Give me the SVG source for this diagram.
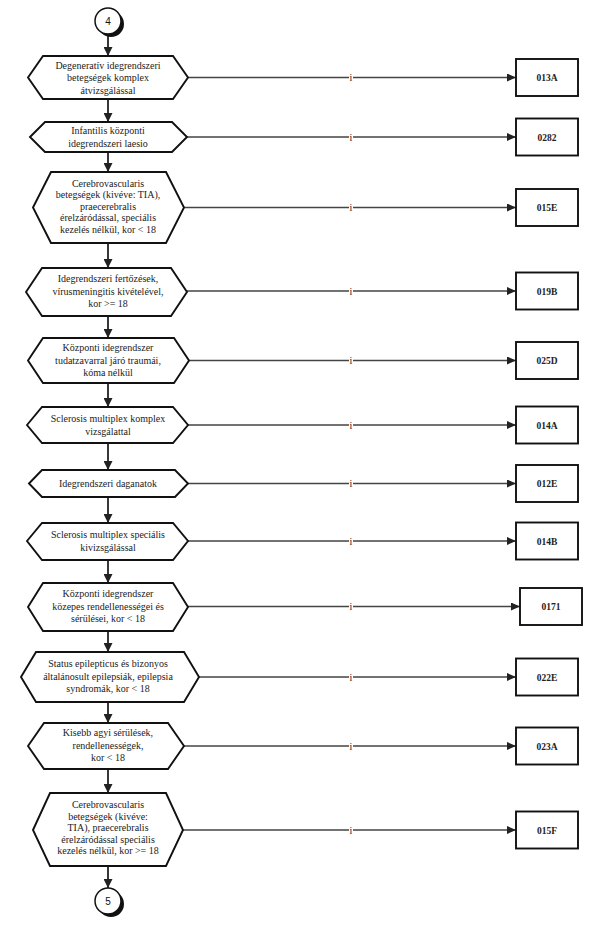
<svg xmlns="http://www.w3.org/2000/svg" width="593" height="928" viewBox="0 0 593 928">
<style>
.hex{fill:#fff;stroke:#111;stroke-width:1.9;stroke-linejoin:miter}
.box{fill:#fff;stroke:#111;stroke-width:1.9}
.t{font-family:"Liberation Serif","Times New Roman",serif;font-size:10px;fill:#222;text-anchor:middle}
.bt{font-family:"Liberation Serif","Times New Roman",serif;font-size:9.5px;font-weight:bold;fill:#222;text-anchor:middle}
.c{fill:none;stroke:#444;stroke-width:1.3}
.v{fill:none;stroke:#222;stroke-width:1.8}
.lbl{font-family:"Liberation Serif","Times New Roman",serif;font-size:10px;fill:#222;text-anchor:middle}
.ct{font-family:"Liberation Sans",Arial,sans-serif;font-size:10px;fill:#111;text-anchor:middle}
</style>
<defs>
<marker id="ah" markerWidth="9" markerHeight="8" refX="9" refY="4" orient="auto" markerUnits="userSpaceOnUse">
<path d="M0,0 L9,4 L0,8 Z" fill="#222"/>
</marker>
<marker id="av" markerWidth="9" markerHeight="9" refX="9" refY="4.5" orient="auto" markerUnits="userSpaceOnUse">
<path d="M0,0 L9,4.5 L0,9 Z" fill="#222"/>
</marker>
</defs>

<g id="connectors">
<line class="v" x1="108" y1="34" x2="108" y2="56" marker-end="url(#av)"/>
<line class="v" x1="108" y1="99" x2="108" y2="122" marker-end="url(#av)"/>
<line class="v" x1="108" y1="152" x2="108" y2="172" marker-end="url(#av)"/>
<line class="v" x1="108" y1="243" x2="108" y2="268" marker-end="url(#av)"/>
<line class="v" x1="108" y1="316" x2="108" y2="338" marker-end="url(#av)"/>
<line class="v" x1="108" y1="383" x2="108" y2="407" marker-end="url(#av)"/>
<line class="v" x1="108" y1="443" x2="108" y2="470" marker-end="url(#av)"/>
<line class="v" x1="108" y1="497" x2="108" y2="523" marker-end="url(#av)"/>
<line class="v" x1="108" y1="560" x2="108" y2="583" marker-end="url(#av)"/>
<line class="v" x1="108" y1="631" x2="108" y2="652" marker-end="url(#av)"/>
<line class="v" x1="108" y1="702" x2="108" y2="723" marker-end="url(#av)"/>
<line class="v" x1="108" y1="769" x2="108" y2="793" marker-end="url(#av)"/>
<line class="v" x1="108" y1="866" x2="108" y2="888" marker-end="url(#av)"/>
<path class="c" d="M188,77.5 H349 M353,77.5 H516" marker-end="url(#ah)"/>
<path class="c" d="M187,137 H349 M353,137 H516" marker-end="url(#ah)"/>
<path class="c" d="M184,207.5 H349 M353,207.5 H516" marker-end="url(#ah)"/>
<path class="c" d="M187,291 H349 M353,291 H516" marker-end="url(#ah)"/>
<path class="c" d="M189,360.5 H349 M353,360.5 H516" marker-end="url(#ah)"/>
<path class="c" d="M188,425 H349 M353,425 H516" marker-end="url(#ah)"/>
<path class="c" d="M188,483.5 H349 M353,483.5 H516" marker-end="url(#ah)"/>
<path class="c" d="M188,541 H349 M353,541 H516" marker-end="url(#ah)"/>
<path class="c" d="M188,606.5 H349 M353,606.5 H520" marker-end="url(#ah)"/>
<path class="c" d="M199,677 H349 M353,677 H516" marker-end="url(#ah)"/>
<path class="c" d="M184,746 H349 M353,746 H516" marker-end="url(#ah)"/>
<path class="c" d="M183,830 H349 M353,830 H516" marker-end="url(#ah)"/>
<text class="lbl" x="351" y="81">i</text>
<text class="lbl" x="351" y="140.5">i</text>
<text class="lbl" x="351" y="211">i</text>
<text class="lbl" x="351" y="294.5">i</text>
<text class="lbl" x="351" y="364">i</text>
<text class="lbl" x="351" y="428.5">i</text>
<text class="lbl" x="351" y="487">i</text>
<text class="lbl" x="351" y="544.5">i</text>
<text class="lbl" x="351" y="610">i</text>
<text class="lbl" x="351" y="680.5">i</text>
<text class="lbl" x="351" y="749.5">i</text>
<text class="lbl" x="351" y="833.5">i</text>
</g>

<g id="start4">
<circle cx="111" cy="24" r="13" fill="#111"/>
<circle cx="108" cy="21" r="13" fill="#fff" stroke="#111" stroke-width="1.5"/>
<text class="ct" x="108" y="24.5">4</text>
</g>

<g id="n1">
<path class="hex" d="M28,77.5 L43,56 L173,56 L188,77.5 L173,99 L43,99 Z"/>
<text class="t" x="108" y="68.5">Degeneratív idegrendszeri</text>
<text class="t" x="108" y="81">betegségek komplex</text>
<text class="t" x="108" y="93.5">átvizsgálással</text>
</g>
<g id="n2">
<path class="hex" d="M30,137 L45,122 L172,122 L187,137 L172,152 L45,152 Z"/>
<text class="t" x="108" y="134">Infantilis központi</text>
<text class="t" x="108" y="146.5">idegrendszeri laesio</text>
</g>
<g id="n3">
<path class="hex" d="M33,207.5 L51,172 L166,172 L184,207.5 L166,243 L51,243 Z"/>
<text class="t" x="108" y="186.5">Cerebrovascularis</text>
<text class="t" x="108" y="198">betegségek (kivéve: TIA),</text>
<text class="t" x="108" y="209.5">praecerebralis</text>
<text class="t" x="108" y="221">érelzáródással, speciális</text>
<text class="t" x="108" y="232.5">kezelés nélkül, kor &lt; 18</text>
</g>
<g id="n4">
<path class="hex" d="M26,292 L42,268 L171,268 L187,292 L171,316 L42,316 Z"/>
<text class="t" x="108" y="282">Idegrendszeri fertőzések,</text>
<text class="t" x="108" y="294.5">vírusmeningitis kivételével,</text>
<text class="t" x="108" y="307">kor &gt;= 18</text>
</g>
<g id="n5">
<path class="hex" d="M28,360.5 L43,338 L174,338 L189,360.5 L174,383 L43,383 Z"/>
<text class="t" x="108" y="351">Központi idegrendszer</text>
<text class="t" x="108" y="363.5">tudatzavarral járó traumái,</text>
<text class="t" x="108" y="376">kóma nélkül</text>
</g>
<g id="n6">
<path class="hex" d="M27,425 L42,407 L173,407 L188,425 L173,443 L42,443 Z"/>
<text class="t" x="108" y="422">Sclerosis multiplex komplex</text>
<text class="t" x="108" y="434.5">vizsgálattal</text>
</g>
<g id="n7">
<path class="hex" d="M29,483.5 L42,470 L175,470 L188,483.5 L175,497 L42,497 Z"/>
<text class="t" x="108" y="487">Idegrendszeri daganatok</text>
</g>
<g id="n8">
<path class="hex" d="M27,541 L42,523 L173,523 L188,541 L173,560 L42,560 Z"/>
<text class="t" x="108" y="538">Sclerosis multiplex speciális</text>
<text class="t" x="108" y="550.5">kivizsgálással</text>
</g>
<g id="n9">
<path class="hex" d="M28,607 L43,583 L173,583 L188,607 L173,631 L43,631 Z"/>
<text class="t" x="108" y="597">Központi idegrendszer</text>
<text class="t" x="108" y="609.5">közepes rendellenességei és</text>
<text class="t" x="108" y="622">sérülései, kor &lt; 18</text>
</g>
<g id="n10">
<path class="hex" d="M21,677 L36,652 L184,652 L199,677 L184,702 L36,702 Z"/>
<text class="t" x="108" y="667">Status epilepticus és bizonyos</text>
<text class="t" x="108" y="679.5">általánosult epilepsiák, epilepsia</text>
<text class="t" x="108" y="692">syndromák, kor &lt; 18</text>
</g>
<g id="n11">
<path class="hex" d="M28,746 L44,723 L168,723 L184,746 L168,769 L44,769 Z"/>
<text class="t" x="108" y="736">Kisebb agyi sérülések,</text>
<text class="t" x="108" y="748.5">rendellenességek,</text>
<text class="t" x="108" y="761">kor &lt; 18</text>
</g>
<g id="n12">
<path class="hex" d="M33,830 L50,793 L166,793 L183,830 L166,866 L50,866 Z"/>
<text class="t" x="108" y="808">Cerebrovascularis</text>
<text class="t" x="108" y="819.5">betegségek (kivéve:</text>
<text class="t" x="108" y="831">TIA), praecerebralis</text>
<text class="t" x="108" y="842.5">érelzáródással speciális</text>
<text class="t" x="108" y="854">kezelés nélkül, kor &gt;= 18</text>
</g>

<g id="b013A"><rect class="box" x="516" y="59" width="62" height="37"/><text class="bt" x="547" y="81">013A</text></g>
<g id="b0282"><rect class="box" x="516" y="118.5" width="62" height="37"/><text class="bt" x="547" y="140.5">0282</text></g>
<g id="b015E"><rect class="box" x="516" y="189" width="62" height="37"/><text class="bt" x="547" y="211">015E</text></g>
<g id="b019B"><rect class="box" x="516" y="272.5" width="62" height="37"/><text class="bt" x="547" y="294.5">019B</text></g>
<g id="b025D"><rect class="box" x="516" y="342" width="62" height="37"/><text class="bt" x="547" y="364">025D</text></g>
<g id="b014A"><rect class="box" x="516" y="406.5" width="62" height="37"/><text class="bt" x="547" y="428.5">014A</text></g>
<g id="b012E"><rect class="box" x="516" y="465" width="62" height="37"/><text class="bt" x="547" y="487">012E</text></g>
<g id="b014B"><rect class="box" x="516" y="522.5" width="62" height="37"/><text class="bt" x="547" y="544.5">014B</text></g>
<g id="b0171"><rect class="box" x="520" y="588" width="62" height="37"/><text class="bt" x="551" y="610">0171</text></g>
<g id="b022E"><rect class="box" x="516" y="658.5" width="62" height="37"/><text class="bt" x="547" y="680.5">022E</text></g>
<g id="b023A"><rect class="box" x="516" y="727.5" width="62" height="37"/><text class="bt" x="547" y="749.5">023A</text></g>
<g id="b015F"><rect class="box" x="516" y="811.5" width="62" height="37"/><text class="bt" x="547" y="833.5">015F</text></g>

<g id="end5">
<circle cx="111" cy="904" r="13" fill="#111"/>
<circle cx="108" cy="901" r="13" fill="#fff" stroke="#111" stroke-width="1.5"/>
<text class="ct" x="108" y="904.5">5</text>
</g>
</svg>
